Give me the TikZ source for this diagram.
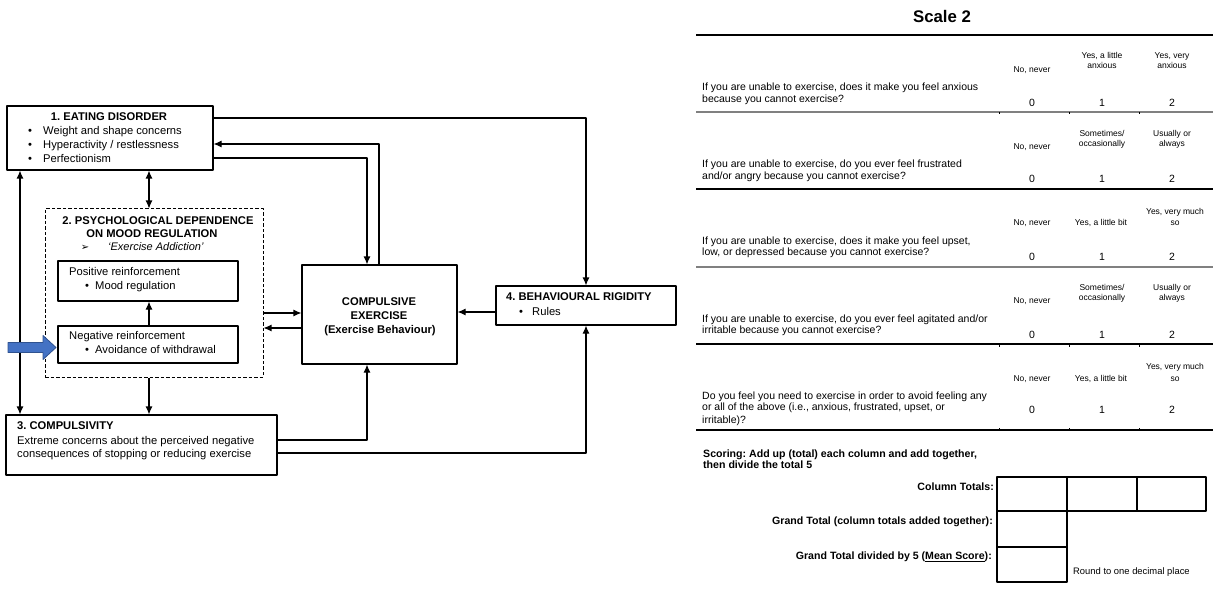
\documentclass[tikz,border=0pt]{standalone}
\usepackage{fontspec}
\setmainfont{Liberation Sans}
\newfontfamily\symfont{DejaVu Sans}
\usetikzlibrary{fit,arrows.meta}
\definecolor{arrowblue}{RGB}{68,114,196}
\definecolor{arrowedge}{RGB}{47,82,143}
\definecolor{rulegray}{RGB}{128,128,128}
\newcommand{\fsz}[2]{\fontsize{#1}{#2}\selectfont}
\frenchspacing

\begin{document}
\begin{tikzpicture}[x=1pt, y=-1pt, line join=round, >={Latex[length=8pt,width=7pt]},
	box/.style={draw, line width=1.1pt, inner sep=0pt},
	link/.style={line width=1.1pt},
	lbl/.style={inner sep=0pt, anchor=mid west, font=\fsz{11.2}{14}},
	ttl/.style={inner sep=0pt, anchor=mid, font=\fsz{11.2}{14}\bfseries},
	dot/.style={inner sep=0pt, anchor=mid, font=\fsz{11.2}{14}},
	qtext/.style={inner sep=0pt, anchor=mid west, font=\fsz{10.5}{12}},
	hdr/.style={inner sep=0pt, anchor=mid, font=\fsz{8.5}{10}},
	num/.style={inner sep=0pt, anchor=mid, font=\fsz{10.5}{12}},
	tot/.style={inner sep=0pt, anchor=mid east, font=\fsz{10.6}{12}\bfseries},
	rule/.style={line width=1.1pt},
	grayrule/.style={line width=2pt, rulegray}]
	\useasboundingbox (0,0) rectangle (1219,591);
	% routing columns and levels
	\coordinate (xl) at (20,0);
	\coordinate (xm) at (149,0);
	\coordinate (xa) at (367,0);
	\coordinate (xb) at (379,0);
	\coordinate (y1) at (0,118);
	\coordinate (y2) at (0,144);
	\coordinate (y3) at (0,158);
	\coordinate (y4) at (0,313);
	\coordinate (y5) at (0,328);
	\coordinate (y6) at (0,440);
	\coordinate (y7) at (0,453);
	\coordinate (y8) at (0,312);
	% 1. eating disorder
	\node[box, fit={(7,106) (213,170)}] (ed) {};
	\node[ttl] (edt) at (109,118) {1. EATING DISORDER};
	\foreach \t [count=\i] in {Weight and shape concerns, Hyperactivity / restlessness, Perfectionism}{
		\node[dot] (edd\i) at (30,118+14*\i) {\textbullet};
		\node[lbl] (edl\i) at (43,118+14*\i) {\t};
	}
	% 2. psychological dependence
	\node[box, dashed, dash pattern=on 3.5pt off 2pt, line width=1pt, fit={(45,209) (263,377)}] (pd) {};
	\node[ttl] (pdt1) at (158,222) {2. PSYCHOLOGICAL DEPENDENCE};
	\node[ttl] (pdt2) at (152,235) {ON MOOD REGULATION};
	\node[dot, font=\symfont\fsz{10}{12}] (pdd) at (85,248) {➢};
	\node[lbl, font=\fsz{11}{14}\itshape] (pdl) at (108,248) {`Exercise Addiction'};
	\node[box, fit={(58,261) (238,301)}] (pos) {};
	\node[lbl] (post) at (69,273) {Positive reinforcement};
	\node[dot] (posd) at (87,287) {\textbullet};
	\node[lbl] (posl) at (95,287) {Mood regulation};
	\node[box, fit={(58,326) (238,363)}] (neg) {};
	\node[lbl] (negt) at (69,337) {Negative reinforcement};
	\node[dot] (negd) at (87,351) {\textbullet};
	\node[lbl] (negl) at (95,351) {Avoidance of withdrawal};
	% 3. compulsivity
	\node[box, fit={(6,415) (277,475)}] (comp) {};
	\node[ttl, anchor=mid west] (compt) at (17,427) {3. COMPULSIVITY};
	\node[lbl] (compl1) at (17,442) {Extreme concerns about the perceived negative};
	\node[lbl] (compl2) at (17,455) {consequences of stopping or reducing exercise};
	% compulsive exercise
	\node[box, fit={(302,265) (457,364)}] (ce) {};
	\node[ttl] (cet1) at (379,303) {COMPULSIVE};
	\node[ttl] (cet2) at (379,317) {EXERCISE};
	\node[ttl] (cet3) at (380,331) {(Exercise Behaviour)};
	% 4. behavioural rigidity
	\node[box, fit={(496,286) (676,325)}] (rig) {};
	\node[ttl, anchor=mid west] (rigt) at (506,298) {4. BEHAVIOURAL RIGIDITY};
	\node[dot] (rigd) at (521,313) {\textbullet};
	\node[lbl] (rigl) at (532,313) {Rules};
	% connectors
	\draw[link,<->] (xm |- ed.south) -- (xm |- pd.north);
	\draw[link,->] (xm |- neg.north) -- (xm |- pos.south);
	\draw[link,->] (xm |- pd.south) -- (xm |- comp.north);
	\draw[link,<->] (xl |- ed.south) -- (xl |- comp.north);
	\draw[link,->] (pd.east |- y4) -- (ce.west |- y4);
	\draw[link,->] (ce.west |- y5) -- (pd.east |- y5);
	\draw[link,->] (rig.west |- y8) -- (ce.east |- y8);
	\draw[link,->] (ed.east |- y1) -| (rig.north);
	\draw[link,->] (xb |- ce.north) |- (ed.east |- y2);
	\draw[link,->] (ed.east |- y3) -| (xa |- ce.north);
	\draw[link,->] (comp.east |- y6) -| (xa |- ce.south);
	\draw[link,->] (comp.east |- y7) -| (rig.south);
	% block arrow into negative reinforcement
	\filldraw[fill=arrowblue, draw=arrowedge, line width=0.8pt] (8,342.5) -- (43,342.5) -- (43,335.5) -- (56,347.5) -- (43,359.5) -- (43,352.5) -- (8,352.5) -- cycle;

	% scale 2 table
	\node[inner sep=0pt, font=\fsz{16.8}{20}\bfseries] (scale) at (942,16) {Scale 2};
	\foreach \y in {35,189,344,430} \draw[rule] (696,\y) -- (1213,\y);
	\foreach \y in {112,267} \draw[grayrule] (696,\y) -- (1213,\y);
	\foreach \y in {112,344} \foreach \x in {999,1069,1139} \draw[line width=1pt] (\x,\y) -- (\x,\y+2.5);
	\foreach \x in {999,1069,1139} \draw[line width=1pt] (\x,430) -- (\x,427.5);
	\foreach \y/\t [count=\i] in {88/{If you are unable to exercise, does it make you feel anxious},
		100/{because you cannot exercise?},
		165/{If you are unable to exercise, do you ever feel frustrated},
		177/{and/or angry because you cannot exercise?},
		242/{If you are unable to exercise, does it make you feel upset,},
		253/{low, or depressed because you cannot exercise?},
		320/{If you are unable to exercise, do you ever feel agitated and/or},
		331/{irritable because you cannot exercise?},
		397/{Do you feel you need to exercise in order to avoid feeling any},
		408/{or all of the above (i.e., anxious, frustrated, upset, or},
		421/{irritable)?}}
		\node[qtext] (q\i) at (702,\y) {\t};
	\foreach \r/\y in {1/70,2/147,3/223,4/301,5/379}
		\node[hdr] (no\r) at (1032,\y) {No, never};
	\foreach \x/\y/\t [count=\i] in {1102/56/{Yes, a little}, 1102/66/{anxious},
		1172/56/{Yes, very}, 1172/66/{anxious},
		1102/134/{Sometimes/}, 1102/144/{occasionally},
		1172/134/{Usually or}, 1172/144/{always},
		1101/223/{Yes, a little bit}, 1175/212/{Yes, very much}, 1175/223/{so},
		1102/288/{Sometimes/}, 1102/298/{occasionally},
		1172/288/{Usually or}, 1172/298/{always},
		1101/379/{Yes, a little bit}, 1175/367/{Yes, very much}, 1175/379/{so}}
		\node[hdr] (h\i) at (\x,\y) {\t};
	\foreach \r/\y in {1/104,2/180,3/258,4/336,5/411}
		\foreach \v/\x in {0/1032,1/1102,2/1172}
			\node[num] (n\r\v) at (\x,\y) {\v};
	% scoring
	\node[inner sep=0pt, anchor=mid west, font=\fsz{10.6}{13}\bfseries] (sc1) at (703,455) {Scoring: Add up (total) each column and add together,};
	\node[inner sep=0pt, anchor=mid west, font=\fsz{10.6}{13}\bfseries] (sc2) at (703,466) {then divide the total 5};
	\node[tot] (tot1) at (994,488) {Column Totals:};
	\node[tot] (tot2) at (993,522) {Grand Total (column totals added together):};
	\node[tot] (tot3) at (992,557) {Grand Total divided by 5 (\underline{Mean Score}):};
	\draw[rule] (997,477) rectangle (1206,511);
	\draw[rule] (1067,477) -- (1067,511) (1137,477) -- (1137,511);
	\draw[rule] (997,511) rectangle (1067,547);
	\draw[rule] (997,547) rectangle (1067,582);
	\node[inner sep=0pt, anchor=mid west, font=\fsz{9.4}{11}] (round) at (1073,572) {Round to one decimal place};
\end{tikzpicture}
\end{document}
